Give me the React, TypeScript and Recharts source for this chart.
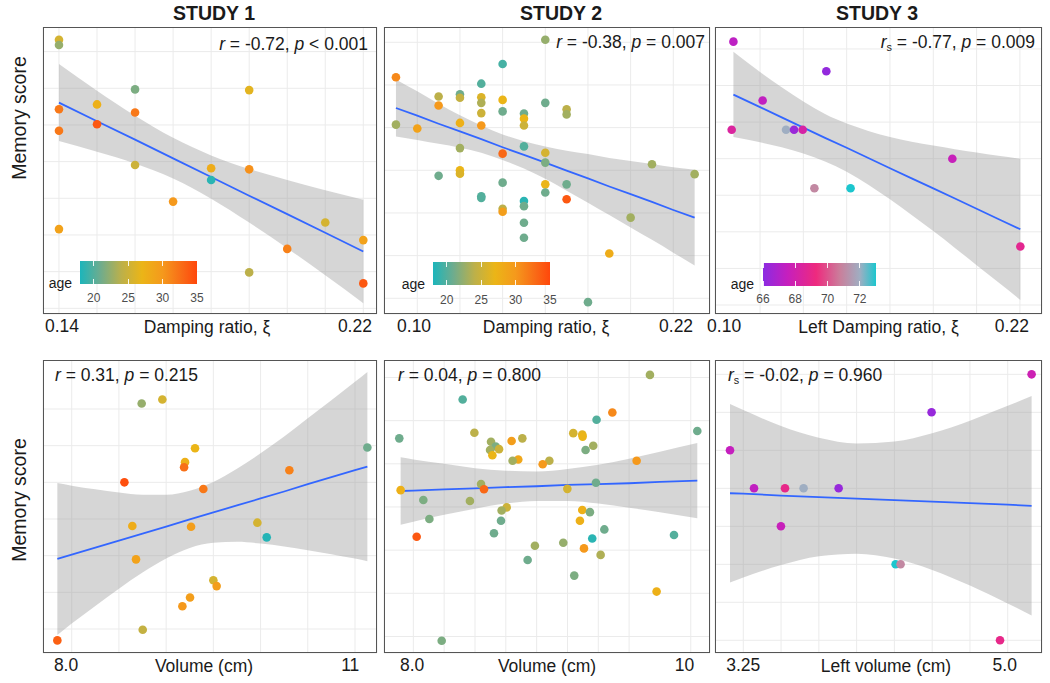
import { type FC, type ReactNode } from "react";
import {
  Area,
  CartesianGrid,
  ComposedChart,
  Line,
  Scatter,
  XAxis,
  YAxis,
} from "recharts";

// [damping/volume, memory score, age]
type Point = [number, number, number];
// [x, fitted, lower, upper]
type FitRow = [number, number, number, number];
type Stop = [number, string];

const youngStops: Stop[] = [
  [18, "#1CB5BB"],
  [21, "#6FAC8D"],
  [24, "#BCB04A"],
  [27, "#EBB517"],
  [30, "#F5991C"],
  [33, "#F96816"],
  [35, "#FF470B"],
];
const oldStops: Stop[] = [
  [66, "#8B2BE2"],
  [67.5, "#C51FBE"],
  [69.3, "#EE2A7E"],
  [70.8, "#C9809C"],
  [72, "#9FAEC2"],
  [73, "#1CC6CE"],
];
const youngTicks = [20, 25, 30, 35];
const oldTicks = [66, 68, 70, 72];

const study1Damping: Point[] = [
  [0.14, 7.32, 25.5], [0.14, 7.18, 22.5], [0.16, 5.97, 21.5], [0.19, 5.95, 26.5],
  [0.15, 5.56, 27.5], [0.14, 5.43, 32], [0.16, 5.34, 32], [0.15, 5.02, 34],
  [0.14, 4.84, 32], [0.16, 3.91, 25], [0.18, 3.82, 28], [0.19, 3.79, 30.5],
  [0.18, 3.5, 18.5], [0.17, 2.91, 30], [0.21, 2.34, 25.5], [0.14, 2.16, 29],
  [0.22, 1.86, 29], [0.2, 1.62, 31.5], [0.19, 0.98, 24], [0.22, 0.68, 34],
];
const study1DampingFit: FitRow[] = [
  [0.14, 5.61, 4.56, 6.66], [0.15, 5.1, 4.27, 5.93], [0.16, 4.6, 3.95, 5.25],
  [0.17, 4.09, 3.54, 4.65], [0.18, 3.58, 2.99, 4.17], [0.19, 3.07, 2.34, 3.8],
  [0.2, 2.57, 1.64, 3.5], [0.21, 2.06, 0.9, 3.22], [0.22, 1.55, 0.14, 2.96],
];

const study2Damping: Point[] = [
  [0.16, 6.06, 22.5], [0.14, 5.49, 19.5], [0.09, 5.18, 31], [0.13, 5.03, 20],
  [0.11, 4.73, 24], [0.12, 4.78, 21], [0.12, 4.7, 24.5], [0.13, 4.71, 26],
  [0.14, 4.65, 27], [0.11, 4.52, 30], [0.13, 4.58, 23.5], [0.16, 4.58, 21],
  [0.17, 4.43, 24], [0.14, 4.38, 21], [0.13, 4.34, 25], [0.15, 4.33, 21],
  [0.17, 4.31, 23], [0.15, 4.21, 27], [0.12, 4.11, 27.5], [0.09, 4.07, 23],
  [0.13, 4.05, 30], [0.15, 4.05, 25], [0.1, 3.98, 29], [0.12, 3.52, 23],
  [0.15, 3.56, 20], [0.14, 3.39, 33], [0.16, 3.41, 25.5], [0.16, 3.18, 21.5],
  [0.21, 3.14, 23], [0.23, 2.91, 23], [0.12, 3.0, 27], [0.12, 2.92, 26],
  [0.11, 2.87, 21], [0.14, 2.71, 21], [0.16, 2.67, 27], [0.17, 2.67, 21],
  [0.16, 2.48, 21], [0.13, 2.39, 20], [0.13, 2.35, 20], [0.17, 2.32, 34],
  [0.15, 2.28, 18.5], [0.15, 2.16, 21], [0.14, 2.1, 24], [0.14, 2.03, 29.5],
  [0.2, 1.89, 23], [0.15, 1.77, 21], [0.15, 1.42, 21], [0.19, 1.05, 28],
  [0.18, -0.09, 21],
];
const study2DampingFit: FitRow[] = [
  [0.09, 4.46, 3.79, 5.13], [0.1, 4.28, 3.71, 4.85], [0.11, 4.09, 3.62, 4.56],
  [0.12, 3.91, 3.53, 4.29], [0.13, 3.73, 3.41, 4.05], [0.14, 3.54, 3.24, 3.84],
  [0.15, 3.36, 3.04, 3.68], [0.16, 3.18, 2.8, 3.56], [0.17, 2.99, 2.52, 3.46],
  [0.18, 2.81, 2.24, 3.38], [0.19, 2.62, 1.95, 3.29], [0.2, 2.44, 1.66, 3.22],
  [0.21, 2.26, 1.37, 3.15], [0.22, 2.07, 1.07, 3.07], [0.23, 1.89, 0.77, 3.01],
];

const study3Damping: Point[] = [
  [0.0877, 7.2, 67.3], [0.1306, 6.39, 66.2], [0.1012, 5.59, 67.4], [0.0869, 4.79, 68.4],
  [0.112, 4.79, 72], [0.1157, 4.79, 66.4], [0.1197, 4.79, 68.2], [0.1888, 4.0, 67.6],
  [0.1251, 3.19, 71], [0.1418, 3.19, 73], [0.2202, 1.6, 68.8],
];
const study3DampingFit: FitRow[] = [
  [0.0877, 5.75, 4.59, 6.92], [0.1, 5.41, 4.45, 6.37], [0.11, 5.13, 4.31, 5.95],
  [0.12, 4.85, 4.14, 5.56], [0.13, 4.57, 3.92, 5.22], [0.14, 4.3, 3.64, 4.96],
  [0.15, 4.02, 3.29, 4.76], [0.16, 3.74, 2.89, 4.59], [0.17, 3.46, 2.46, 4.46],
  [0.18, 3.19, 2.02, 4.36], [0.19, 2.91, 1.56, 4.26], [0.2, 2.63, 1.09, 4.17],
  [0.21, 2.35, 0.62, 4.08], [0.2202, 2.07, 0.14, 4.0],
];

const study1Volume: Point[] = [
  [8.741, 6.15, 22.5], [8.96, 6.26, 25.5], [9.306, 4.93, 27], [9.2, 4.55, 27.5],
  [9.19, 4.41, 32.5], [10.305, 4.33, 31.5], [8.558, 4.0, 34.5], [9.394, 3.82, 32],
  [8.642, 2.81, 28], [9.264, 2.79, 29.5], [9.966, 2.9, 25.5], [10.065, 2.5, 18.3],
  [11.131, 4.95, 21], [8.681, 1.9, 29], [9.5, 1.33, 25.5], [9.535, 1.17, 29.5],
  [9.253, 0.86, 29.5], [9.172, 0.62, 30], [8.752, -0.02, 24.5], [7.848, -0.31, 33.5],
];
const study1VolumeFit: FitRow[] = [
  [7.848, 1.91, -0.16, 3.98], [8.0, 2.03, 0.15, 3.91], [8.25, 2.22, 0.63, 3.81],
  [8.5, 2.41, 1.1, 3.72], [8.75, 2.6, 1.54, 3.66], [9.0, 2.79, 1.92, 3.66],
  [9.25, 2.99, 2.21, 3.77], [9.5, 3.18, 2.35, 4.01], [9.75, 3.37, 2.38, 4.37],
  [10.0, 3.56, 2.33, 4.79], [10.25, 3.75, 2.25, 5.25], [10.5, 3.95, 2.15, 5.75],
  [10.75, 4.14, 2.04, 6.24], [11.0, 4.33, 1.92, 6.74], [11.131, 4.43, 1.85, 7.01],
];

const study2Volume: Point[] = [
  [9.919, 5.06, 23], [8.4, 4.49, 20], [9.614, 4.19, 31], [9.486, 4.02, 20],
  [7.886, 3.59, 21], [10.303, 3.76, 21], [8.495, 3.72, 24], [9.297, 3.71, 25.5],
  [9.37, 3.68, 26.5], [9.373, 3.63, 27], [8.884, 3.59, 24], [8.797, 3.53, 29.5],
  [8.63, 3.51, 23], [8.668, 3.4, 21.5], [8.622, 3.32, 23], [8.695, 3.34, 25],
  [9.459, 3.42, 23], [9.397, 3.32, 21.5], [8.641, 3.2, 27], [8.851, 3.1, 28.5],
  [8.805, 3.07, 23], [9.103, 3.07, 24], [9.049, 2.99, 30], [9.811, 3.07, 30],
  [8.549, 2.53, 23], [9.481, 2.56, 21], [7.897, 2.39, 27.5], [8.573, 2.41, 33],
  [9.249, 2.42, 25.5], [8.081, 2.16, 21.5], [8.459, 2.14, 23], [8.757, 1.99, 25],
  [8.716, 1.92, 23], [9.37, 1.93, 27.5], [9.432, 1.88, 21.5], [8.13, 1.72, 21.5],
  [8.711, 1.68, 21], [9.351, 1.68, 27.5], [9.549, 1.48, 21], [8.654, 1.39, 21],
  [8.027, 1.31, 34], [10.114, 1.35, 20], [9.451, 1.27, 18.5], [9.216, 1.17, 22.5],
  [8.986, 1.1, 23], [9.384, 1.04, 30], [9.519, 0.89, 23.5], [8.927, 0.77, 21],
  [9.305, 0.41, 21.5], [9.973, 0.04, 27.5], [8.23, -1.1, 21.5],
];
const study2VolumeFit: FitRow[] = [
  [7.897, 2.37, 1.59, 3.15], [8.0, 2.38, 1.66, 3.1], [8.25, 2.41, 1.82, 3.0],
  [8.5, 2.43, 1.96, 2.9], [8.75, 2.46, 2.08, 2.84], [9.0, 2.48, 2.14, 2.82],
  [9.25, 2.51, 2.14, 2.88], [9.5, 2.53, 2.08, 2.98], [9.75, 2.55, 1.98, 3.12],
  [10.0, 2.58, 1.88, 3.28], [10.303, 2.61, 1.74, 3.48],
];

const study3Volume: Point[] = [
  [5.158, 7, 67.8], [4.496, 6, 66.3], [3.162, 5, 67.5], [3.321, 4, 67.4],
  [3.526, 4, 69], [3.649, 4, 72], [3.881, 4, 66.3], [3.499, 3, 67.6],
  [4.258, 2, 73], [4.291, 2, 71], [4.949, 0, 69],
];
const study3VolumeFit: FitRow[] = [
  [3.162, 3.87, 1.52, 6.22], [3.25, 3.86, 1.65, 6.06], [3.5, 3.81, 1.98, 5.64],
  [3.75, 3.77, 2.21, 5.33], [4.0, 3.73, 2.28, 5.18], [4.25, 3.69, 2.15, 5.23],
  [4.5, 3.65, 1.85, 5.45], [4.75, 3.61, 1.44, 5.78], [5.0, 3.57, 0.97, 6.17],
  [5.158, 3.54, 0.65, 6.43],
];

const studyTitles = ["STUDY 1", "STUDY 2", "STUDY 3"];
const yTitle = "Memory score";

const FONT = "'Liberation Sans', Arial, Helvetica, sans-serif";
const TEXT = "#1a1a1a";

const hexToRgb = (h: string) => [
  parseInt(h.slice(1, 3), 16),
  parseInt(h.slice(3, 5), 16),
  parseInt(h.slice(5, 7), 16),
];

const ageColor = (age: number, stops: Stop[]) => {
  if (age <= stops[0][0]) return stops[0][1];
  for (let i = 1; i < stops.length; i++) {
    const [a1, c1] = stops[i];
    const [a0, c0] = stops[i - 1];
    if (age <= a1) {
      const t = (age - a0) / (a1 - a0);
      const p = hexToRgb(c0);
      const q = hexToRgb(c1);
      const m = p.map((v, k) => Math.round(v + (q[k] - v) * t));
      return `rgb(${m[0]},${m[1]},${m[2]})`;
    }
  }
  return stops[stops.length - 1][1];
};

interface PanelSpec {
  left: number;
  top: number;
  w: number;
  h: number;
  xDomain: [number, number];
  yDomain: [number, number];
  gridX: number[];
  gridY: number[];
  tickAt: number[];
  tickText: string[];
  xTitle: string;
  titleDx: number;
  points: Point[];
  fit: FitRow[];
  stops: Stop[];
}

const range = (a: number, b: number, s: number) => {
  const out: number[] = [];
  for (let v = a; v <= b + s / 1000; v += s) out.push(Math.round(v * 10000) / 10000);
  return out;
};

const panels: PanelSpec[] = [
  {
    left: 43, top: 27, w: 334, h: 287,
    xDomain: [0.1358, 0.2236], yDomain: [-0.155, 7.671],
    gridX: range(0.14, 0.22, 0.01), gridY: range(0, 7, 1),
    tickAt: [0.1408, 0.2178], tickText: ["0.14", "0.22"],
    xTitle: "Damping ratio, ξ", titleDx: -3,
    points: study1Damping, fit: study1DampingFit, stops: youngStops,
  },
  {
    left: 384, top: 27, w: 326, h: 287,
    xDomain: [0.0844, 0.2372], yDomain: [-0.368, 6.358],
    gridX: range(0.1, 0.22, 0.02), gridY: range(0, 6, 1),
    tickAt: [0.0985, 0.2213], tickText: ["0.10", "0.22"],
    xTitle: "Damping ratio, ξ", titleDx: -1,
    points: study2Damping, fit: study2DampingFit, stops: youngStops,
  },
  {
    left: 715, top: 27, w: 327, h: 287,
    xDomain: [0.0792, 0.2302], yDomain: [-0.246, 7.6],
    gridX: range(0.1, 0.22, 0.02), gridY: range(0, 7, 1),
    tickAt: [0.0834, 0.2163], tickText: ["0.10", "0.22"],
    xTitle: "Left Damping ratio, ξ", titleDx: 0,
    points: study3Damping, fit: study3DampingFit, stops: oldStops,
  },
  {
    left: 43, top: 360, w: 334, h: 293,
    xDomain: [7.696, 11.233], yDomain: [-0.654, 7.336],
    gridX: range(8, 11, 0.5), gridY: range(0, 6, 1),
    tickAt: [7.94, 10.95], tickText: ["8.0", "11"],
    xTitle: "Volume (cm)", titleDx: -6,
    points: study1Volume, fit: study1VolumeFit, stops: youngStops,
  },
  {
    left: 384, top: 360, w: 326, h: 293,
    xDomain: [7.762, 10.406], yDomain: [-1.383, 5.405],
    gridX: range(8, 10.25, 0.25), gridY: range(-1, 5, 1),
    tickAt: [7.99, 10.2], tickText: ["8.0", "10"],
    xTitle: "Volume (cm)", titleDx: 0,
    points: study2Volume, fit: study2VolumeFit, stops: youngStops,
  },
  {
    left: 715, top: 360, w: 327, h: 293,
    xDomain: [3.0627, 5.2268], yDomain: [-0.334, 7.377],
    gridX: range(3.25, 5, 0.25), gridY: range(0, 7, 1),
    tickAt: [3.25, 4.98], tickText: ["3.25", "5.0"],
    xTitle: "Left volume (cm)", titleDx: 7.5,
    points: study3Volume, fit: study3VolumeFit, stops: oldStops,
  },
];

const SIDE = 24;

const Panel: FC<{ p: PanelSpec }> = ({ p }) => {
  const data = p.fit.map(([x, fit, lo, hi]) => ({ x, fit, band: [lo, hi] }));
  const pts = p.points.map(([x, y, age]) => ({ x, y, age }));
  return (
    <>
      <div style={{ position: "absolute", left: p.left - SIDE, top: p.top }}>
        <ComposedChart
          width={p.w + SIDE * 2}
          height={p.h + 30}
          data={data}
          margin={{ top: 0, right: SIDE, bottom: 0, left: SIDE }}
        >
          <CartesianGrid stroke="#EBEBEB" strokeWidth={1} />
          <XAxis
            type="number"
            dataKey="x"
            domain={p.xDomain}
            ticks={p.gridX}
            allowDataOverflow
            height={0}
            hide
          />
          <XAxis
            xAxisId="lab"
            type="number"
            dataKey="x"
            domain={p.xDomain}
            ticks={p.tickAt}
            interval={0}
            allowDataOverflow
            height={30}
            axisLine={false}
            tickLine={false}
            tickSize={0}
            tickMargin={6}
            tick={{ fontSize: 17.5, fill: TEXT, fontFamily: FONT }}
            tickFormatter={(v: number) => p.tickText[p.tickAt.indexOf(v)] ?? ""}
            label={(lp: any) => {
              const vb = lp.viewBox;
              return (
                <text
                  x={vb.x + vb.width / 2 + p.titleDx}
                  y={vb.y + 18.5}
                  textAnchor="middle"
                  fontSize={17.5}
                  fontFamily={FONT}
                  fill={TEXT}
                >
                  {p.xTitle}
                </text>
              );
            }}
          />
          <YAxis
            type="number"
            dataKey="y"
            domain={p.yDomain}
            ticks={p.gridY}
            allowDataOverflow
            width={0}
            hide
          />
          <Area
            dataKey="band"
            type="monotone"
            fill="#999999"
            fillOpacity={0.4}
            stroke="none"
            isAnimationActive={false}
          />
          <Line
            dataKey="fit"
            type="linear"
            stroke="#3366FF"
            strokeWidth={1.8}
            dot={false}
            isAnimationActive={false}
          />
          <Scatter
            data={pts}
            isAnimationActive={false}
            shape={(sp: any) => (
              <circle
                cx={sp.cx}
                cy={sp.cy}
                r={4.3}
                fill={ageColor(sp.payload.age, p.stops)}
              />
            )}
          />
        </ComposedChart>
      </div>
      <div
        style={{
          position: "absolute",
          left: p.left,
          top: p.top,
          width: p.w,
          height: p.h,
          border: "1px solid #555",
          boxSizing: "border-box",
          pointerEvents: "none",
        }}
      />
    </>
  );
};

interface BarSpec {
  left: number;
  top: number;
  width: number;
  stops: Stop[];
  ticks: number[];
  ageRight: number;
  ageBase: number;
  labelBase: number;
}

const bars: BarSpec[] = [
  { left: 80, top: 261, width: 117, stops: youngStops, ticks: youngTicks, ageRight: 72, ageBase: 288, labelBase: 302 },
  { left: 433, top: 262, width: 117, stops: youngStops, ticks: youngTicks, ageRight: 425, ageBase: 289, labelBase: 304 },
  { left: 763, top: 263, width: 113, stops: oldStops, ticks: oldTicks, ageRight: 754, ageBase: 289, labelBase: 303 },
];

const ColorBar: FC<{ b: BarSpec }> = ({ b }) => {
  const H = 23;
  const min = b.stops[0][0];
  const max = b.stops[b.stops.length - 1][0];
  const pos = (v: number) => b.left + ((v - min) / (max - min)) * b.width;
  const grad = `linear-gradient(to right, ${b.stops
    .map(([a, c]) => `${c} ${(((a - min) / (max - min)) * 100).toFixed(1)}%`)
    .join(", ")})`;
  return (
    <>
      <div style={{ position: "absolute", left: b.left, top: b.top, width: b.width, height: H, background: grad }} />
      {b.ticks.map((t) => (
        <div key={`t${t}`}>
          <div style={{ position: "absolute", left: pos(t) - 0.5, top: b.top, width: 1, height: 4.6, background: "rgba(255,255,255,0.9)" }} />
          <div style={{ position: "absolute", left: pos(t) - 0.5, top: b.top + H - 4.6, width: 1, height: 4.6, background: "rgba(255,255,255,0.9)" }} />
          <div
            style={{
              position: "absolute",
              left: pos(t) - 20,
              width: 40,
              textAlign: "center",
              top: b.labelBase - 10.2,
              fontSize: 12,
              lineHeight: 1,
              color: "#4D4D4D",
            }}
          >
            {t}
          </div>
        </div>
      ))}
      <div
        style={{
          position: "absolute",
          right: 1050 - b.ageRight,
          top: b.ageBase - 11.9,
          fontSize: 14,
          lineHeight: 1,
          color: TEXT,
        }}
      >
        age
      </div>
    </>
  );
};

const Sub: FC<{ children: ReactNode }> = ({ children }) => (
  <sub style={{ fontSize: "0.62em", lineHeight: 0, verticalAlign: "-0.3em" }}>{children}</sub>
);

const stats: { node: ReactNode; left?: number; right?: number; base: number }[] = [
  { node: <><i>r</i> = -0.72, <i>p</i> &lt; 0.001</>, right: 368, base: 51 },
  { node: <><i>r</i> = -0.38, <i>p</i> = 0.007</>, right: 705, base: 49 },
  { node: <><i>r</i><Sub>s</Sub> = -0.77, <i>p</i> = 0.009</>, right: 1035, base: 48.5 },
  { node: <><i>r</i> = 0.31, <i>p</i> = 0.215</>, left: 55, base: 382 },
  { node: <><i>r</i> = 0.04, <i>p</i> = 0.800</>, left: 398, base: 382 },
  { node: <><i>r</i><Sub>s</Sub> = -0.02, <i>p</i> = 0.960</>, left: 728, base: 382 },
];

const titleCenters = [214, 561, 877];
const yTitleCenters = [118, 500];

export default function App() {
  return (
    <div
      style={{
        position: "absolute",
        left: 0,
        top: 0,
        width: 1050,
        height: 683,
        background: "#fff",
        fontFamily: FONT,
        color: TEXT,
        overflow: "hidden",
      }}
    >
      {panels.map((p, i) => (
        <Panel key={i} p={p} />
      ))}
      {bars.map((b, i) => (
        <ColorBar key={i} b={b} />
      ))}
      {stats.map((s, i) => (
        <div
          key={i}
          style={{
            position: "absolute",
            top: s.base - 14.8,
            ...(s.left !== undefined ? { left: s.left } : { right: 1050 - (s.right as number) }),
            fontSize: 17.5,
            lineHeight: 1,
            whiteSpace: "nowrap",
          }}
        >
          {s.node}
        </div>
      ))}
      {studyTitles.map((t, i) => (
        <div
          key={t}
          style={{
            position: "absolute",
            left: titleCenters[i] - 60,
            width: 120,
            textAlign: "center",
            top: 2,
            fontSize: 21,
            fontWeight: "bold",
            lineHeight: 1,
            transform: "scaleX(0.93)",
          }}
        >
          {t}
        </div>
      ))}
      {yTitleCenters.map((c, i) => (
        <div
          key={i}
          style={{
            position: "absolute",
            left: 19 - 75,
            top: c - 10,
            width: 150,
            height: 20,
            lineHeight: "20px",
            textAlign: "center",
            fontSize: 19.5,
            transform: "rotate(-90deg)",
            transformOrigin: "50% 50%",
          }}
        >
          {yTitle}
        </div>
      ))}
    </div>
  );
}
